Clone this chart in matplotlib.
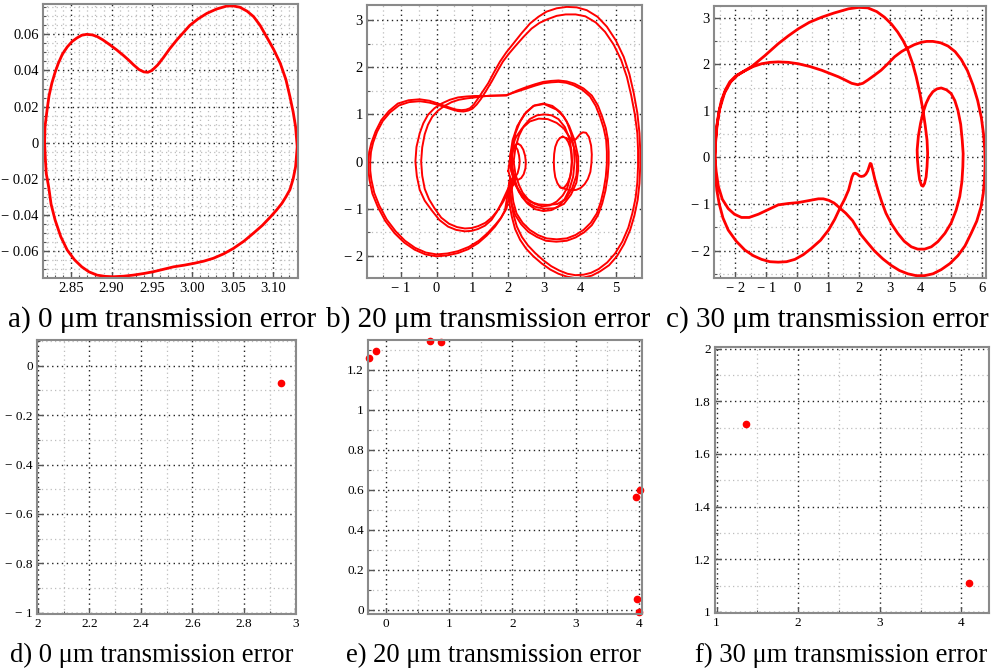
import matplotlib
matplotlib.use('Agg')
import matplotlib.pyplot as plt
from matplotlib.ticker import MultipleLocator, FuncFormatter

plt.rcParams['font.family'] = ['Liberation Serif', 'DejaVu Serif']

# ---------------- data ----------------
# a) 0 um phase portrait (closed orbit)
a_x = [2.817, 2.8175, 2.820, 2.8225, 2.826, 2.830, 2.834, 2.839, 2.845, 2.851, 2.857, 2.863, 2.869,
       2.876, 2.882, 2.889, 2.897, 2.906, 2.915, 2.921, 2.927, 2.934, 2.940, 2.945, 2.950, 2.957,
       2.964, 2.972, 2.981, 2.989, 2.997, 3.007, 3.018, 3.030, 3.043, 3.051, 3.059, 3.068, 3.076,
       3.084, 3.092, 3.101, 3.109, 3.116, 3.121, 3.125, 3.128, 3.130, 3.129, 3.128, 3.125, 3.121,
       3.116, 3.111, 3.104, 3.097, 3.087, 3.076, 3.064, 3.051, 3.039, 3.026, 3.014, 3.002, 2.990,
       2.977, 2.965, 2.952, 2.940, 2.927, 2.915, 2.902, 2.892, 2.882, 2.872, 2.863, 2.854, 2.845,
       2.837, 2.830, 2.825, 2.822, 2.819, 2.818, 2.817]
a_y = [0.000, 0.009, 0.018, 0.026, 0.033, 0.039, 0.044, 0.049, 0.053, 0.056, 0.058, 0.0595, 0.060,
       0.0597, 0.0588, 0.0570, 0.0545, 0.0515, 0.0482, 0.0458, 0.0432, 0.0405, 0.0392, 0.0390, 0.0400, 0.043,
       0.047, 0.052, 0.057, 0.061, 0.065, 0.0685, 0.0716, 0.074, 0.0757, 0.0757, 0.075, 0.0728, 0.0698,
       0.065, 0.0587, 0.0515, 0.044, 0.035, 0.0255, 0.017, 0.0089, -0.0022, -0.008, -0.0133, -0.020, -0.026,
       -0.030, -0.0336, -0.0375, -0.041, -0.0457, -0.050, -0.0545, -0.0585, -0.0615, -0.064, -0.0656, -0.0668, -0.0678,
       -0.0687, -0.070, -0.0714, -0.0724, -0.0733, -0.0739, -0.0742, -0.0740, -0.0733, -0.0715, -0.0687, -0.0648, -0.0594,
       -0.052, -0.0428, -0.034, -0.0244, -0.017, -0.0096, 0.000]

# b) 20 um phase portrait (several strands)
b_outer1_x = [2.05, 1.98, 1.91, 1.78, 1.63, 1.40, 1.16, 0.88, 0.60, 0.30, 0.00, -0.31, -0.61, -0.90,
              -1.17, -1.43, -1.64, -1.79, -1.87, -1.90, -1.90, -1.88, -1.82, -1.70, -1.54, -1.33, -1.08,
              -0.78, -0.47, -0.20, 0.04, 0.23, 0.42, 0.56, 0.70, 0.82, 0.93, 1.04, 1.16, 1.30, 1.44,
              1.60, 1.77, 1.95, 2.14, 2.37, 2.61, 2.84, 3.07, 3.35, 3.63, 3.91, 4.19, 4.49, 4.75,
              5.00, 5.22, 5.38, 5.50, 5.60, 5.66, 5.68, 5.68, 5.66, 5.61, 5.52, 5.40, 5.23, 5.03,
              4.81, 4.56, 4.33, 4.10, 3.86, 3.63, 3.40, 3.17, 2.93, 2.70, 2.50, 2.33, 2.19, 2.10,
              2.04, 2.02, 2.03, 2.05]
b_outer1_y = [-0.35, -0.70, -1.03, -1.22, -1.38, -1.57, -1.73, -1.86, -1.94, -1.99, -2.01, -1.97, -1.87, -1.72,
              -1.52, -1.26, -0.96, -0.68, -0.39, -0.19, 0.00, 0.20, 0.39, 0.64, 0.88, 1.07, 1.23,
              1.30, 1.32, 1.29, 1.23, 1.18, 1.13, 1.10, 1.09, 1.10, 1.13, 1.21, 1.34, 1.50, 1.66,
              1.89, 2.12, 2.32, 2.50, 2.72, 2.93, 3.07, 3.18, 3.25, 3.28, 3.27, 3.21, 3.07, 2.86,
              2.57, 2.22, 1.85, 1.45, 1.03, 0.60, 0.25, -0.11, -0.46, -0.81, -1.14, -1.45, -1.75, -2.01,
              -2.20, -2.33, -2.42, -2.46, -2.47, -2.44, -2.38, -2.29, -2.16, -2.01, -1.85, -1.66, -1.43, -1.17,
              -0.93, -0.70, -0.52, -0.35]
b_outer2_x = [2.15, 2.03, 1.95, 1.81, 1.65, 1.42, 1.18, 0.90, 0.60, 0.30, 0.00, -0.30, -0.60, -0.88,
              -1.14, -1.39, -1.60, -1.74, -1.82, -1.85, -1.85, -1.83, -1.77, -1.66, -1.50, -1.30, -1.05,
              -0.77, -0.47, -0.20, 0.05, 0.25, 0.45, 0.60, 0.75, 0.88, 1.00, 1.12, 1.24, 1.39, 1.54,
              1.70, 1.85, 2.02, 2.20, 2.42, 2.65, 2.87, 3.10, 3.35, 3.60, 3.88, 4.15, 4.44, 4.70,
              4.94, 5.15, 5.31, 5.43, 5.53, 5.60, 5.62, 5.62, 5.60, 5.55, 5.46, 5.35, 5.18, 4.98,
              4.76, 4.52, 4.31, 4.10, 3.87, 3.65, 3.42, 3.20, 2.97, 2.75, 2.55, 2.38, 2.24, 2.15,
              2.09, 2.06, 2.09, 2.15]
b_outer2_y = [-0.45, -0.72, -1.00, -1.18, -1.33, -1.52, -1.68, -1.81, -1.90, -1.95, -1.97, -1.93, -1.83, -1.68,
              -1.48, -1.23, -0.93, -0.66, -0.38, -0.19, 0.00, 0.20, 0.40, 0.63, 0.86, 1.04, 1.19,
              1.26, 1.28, 1.25, 1.20, 1.15, 1.10, 1.07, 1.06, 1.08, 1.12, 1.21, 1.33, 1.51, 1.70,
              1.92, 2.12, 2.29, 2.45, 2.64, 2.82, 2.94, 3.02, 3.09, 3.12, 3.12, 3.08, 2.95, 2.75,
              2.48, 2.15, 1.79, 1.40, 1.00, 0.60, 0.25, -0.10, -0.44, -0.78, -1.10, -1.40, -1.70, -1.95,
              -2.14, -2.28, -2.36, -2.40, -2.41, -2.38, -2.31, -2.22, -2.09, -1.94, -1.78, -1.60, -1.38, -1.14,
              -0.90, -0.68, -0.55, -0.45]
b_mid1_x = [2.15, 1.98, 1.81, 1.68, 1.53, 1.35, 1.16, 0.98, 0.79, 0.55, 0.32, 0.08, -0.14, -0.33,
            -0.47, -0.55, -0.59, -0.56, -0.47, -0.37, -0.24, -0.06, 0.14, 0.37, 0.60, 0.84, 1.07,
            1.50, 1.95, 2.23, 2.51, 2.75, 2.98, 3.20, 3.40, 3.62, 3.82, 4.07, 4.28, 4.44, 4.56,
            4.66, 4.73, 4.75, 4.75, 4.72, 4.66, 4.58, 4.47, 4.30, 4.10, 3.87, 3.63, 3.35, 3.07,
            2.83, 2.60, 2.40, 2.23, 2.14, 2.10, 2.11, 2.15]
b_mid1_y = [-0.30, -0.60, -0.88, -1.07, -1.24, -1.36, -1.43, -1.47, -1.48, -1.45, -1.38, -1.24, -1.03, -0.83,
            -0.60, -0.31, 0.00, 0.31, 0.60, 0.81, 0.99, 1.13, 1.23, 1.31, 1.36, 1.38, 1.39,
            1.39, 1.41, 1.48, 1.55, 1.61, 1.66, 1.68, 1.69, 1.67, 1.62, 1.52, 1.38, 1.18, 0.95,
            0.71, 0.46, 0.21, -0.04, -0.32, -0.60, -0.86, -1.10, -1.30, -1.45, -1.56, -1.63, -1.65, -1.63,
            -1.56, -1.45, -1.30, -1.10, -0.85, -0.60, -0.45, -0.30]
b_mid2_x = [2.20, 2.03, 1.86, 1.71, 1.55, 1.36, 1.16, 0.98, 0.79, 0.57, 0.35, 0.13, -0.05, -0.21,
            -0.33, -0.40, -0.43, -0.40, -0.33, -0.24, -0.12, 0.04, 0.22, 0.42, 0.62, 0.85, 1.07,
            1.50, 1.95, 2.23, 2.51, 2.75, 2.98, 3.20, 3.40, 3.63, 3.85, 4.10, 4.33, 4.50, 4.62,
            4.72, 4.78, 4.80, 4.80, 4.77, 4.71, 4.62, 4.50, 4.33, 4.12, 3.88, 3.63, 3.34, 3.05,
            2.80, 2.56, 2.36, 2.19, 2.09, 2.05, 2.10, 2.20]
b_mid2_y = [-0.35, -0.60, -0.85, -1.03, -1.18, -1.30, -1.37, -1.41, -1.42, -1.39, -1.32, -1.19, -1.00, -0.80,
            -0.58, -0.30, 0.00, 0.30, 0.58, 0.78, 0.95, 1.08, 1.18, 1.26, 1.31, 1.34, 1.36,
            1.40, 1.40, 1.50, 1.58, 1.64, 1.69, 1.71, 1.72, 1.70, 1.65, 1.55, 1.40, 1.19, 0.95,
            0.71, 0.46, 0.21, -0.04, -0.33, -0.62, -0.89, -1.14, -1.35, -1.50, -1.61, -1.68, -1.70, -1.68,
            -1.60, -1.49, -1.33, -1.13, -0.87, -0.60, -0.45, -0.35]
b_loop1_x = [2.10, 2.13, 2.20, 2.33, 2.50, 2.73, 2.98, 3.23, 3.45, 3.63, 3.75, 3.83, 3.85, 3.81, 3.70,
             3.57, 3.40, 3.20, 2.98, 2.75, 2.55, 2.38, 2.25, 2.15, 2.10]
b_loop1_y = [0.00, 0.32, 0.60, 0.85, 1.05, 1.19, 1.23, 1.18, 1.05, 0.85, 0.60, 0.30, 0.00, -0.32, -0.60,
             -0.80, -0.95, -1.03, -1.05, -1.01, -0.90, -0.75, -0.55, -0.30, 0.00]
b_loop2_x = [2.15, 2.20, 2.30, 2.43, 2.60, 2.80, 3.00, 3.21, 3.40, 3.58, 3.70, 3.76, 3.78, 3.74, 3.65,
             3.52, 3.35, 3.16, 2.95, 2.74, 2.55, 2.40, 2.30, 2.20, 2.15]
b_loop2_y = [0.00, 0.30, 0.55, 0.75, 0.90, 0.98, 1.00, 0.98, 0.90, 0.73, 0.50, 0.25, 0.00, -0.29, -0.55,
             -0.72, -0.85, -0.93, -0.95, -0.90, -0.80, -0.66, -0.50, -0.27, 0.00]
b_loop3_x = [2.00, 2.07, 2.20, 2.38, 2.60, 2.85, 3.10, 3.35, 3.55, 3.75, 3.88, 3.92, 3.90, 3.78, 3.60,
             3.37, 3.10, 2.85, 2.60, 2.38, 2.20, 2.06, 2.00]
b_loop3_y = [-0.20, 0.18, 0.50, 0.70, 0.85, 0.91, 0.90, 0.82, 0.70, 0.47, 0.20, -0.05, -0.30, -0.57, -0.80,
             -0.90, -0.92, -0.91, -0.85, -0.70, -0.50, -0.35, -0.20]
b_loop4_x = [2.05, 2.12, 2.25, 2.45, 2.70, 3.00, 3.35, 3.55, 3.70, 3.85, 3.95, 3.95, 3.90, 3.75, 3.55,
             3.30, 3.00, 2.75, 2.50, 2.30, 2.15, 2.07, 2.05]
b_loop4_y = [0.10, 0.45, 0.75, 1.00, 1.18, 1.22, 1.10, 0.95, 0.75, 0.45, 0.10, -0.18, -0.45, -0.70, -0.90,
             -0.99, -1.00, -0.96, -0.85, -0.65, -0.40, -0.15, 0.10]
b_ellipse_x = [3.52, 3.60, 3.67, 3.73, 3.76, 3.77, 3.76, 3.72, 3.66, 3.59, 3.52, 3.44, 3.37, 3.31, 3.28,
               3.27, 3.28, 3.31, 3.37, 3.44, 3.52]
b_ellipse_y = [0.53, 0.50, 0.42, 0.30, 0.15, 0.00, -0.17, -0.33, -0.45, -0.53, -0.57, -0.54, -0.46, -0.33, -0.17,
               0.00, 0.16, 0.31, 0.43, 0.50, 0.53]
b_bump_x = [3.62, 3.75, 3.88, 4.00, 4.08, 4.17, 4.25, 4.31, 4.33, 4.32, 4.29, 4.22, 4.13, 4.02, 3.90,
            3.77, 3.62, 3.45]
b_bump_y = [0.50, 0.44, 0.47, 0.58, 0.62, 0.61, 0.52, 0.34, 0.15, -0.03, -0.22, -0.37, -0.48, -0.56, -0.60,
            -0.61, -0.59, -0.55]
b_small1_x = [2.27, 2.35, 2.42, 2.47, 2.49, 2.48, 2.43, 2.36, 2.27, 2.18, 2.11, 2.06, 2.05, 2.07, 2.12,
              2.19, 2.27]
b_small1_y = [0.38, 0.34, 0.25, 0.12, -0.01, -0.14, -0.27, -0.35, -0.39, -0.35, -0.26, -0.13, 0.00, 0.14, 0.27,
              0.35, 0.38]
b_small2_x = [2.20, 2.26, 2.30, 2.32, 2.30, 2.26, 2.20, 2.14, 2.10, 2.08, 2.10, 2.14, 2.20]
b_small2_y = [0.32, 0.25, 0.13, 0.00, -0.13, -0.25, -0.32, -0.25, -0.13, 0.00, 0.13, 0.25, 0.32]

# c) 30 um phase portrait (period-2 orbit)
c_x = [-2.66, -2.64, -2.60, -2.54, -2.45, -2.32, -2.18, -2.00, -1.75, -1.47, -1.05, -0.61, -0.28, 0.04,
       0.40, 0.80, 1.20, 1.67, 2.00, 2.29, 2.58, 2.83, 3.06, 3.26, 3.44, 3.59, 3.74, 3.86,
       3.98, 4.08, 4.15, 4.21, 4.23, 4.21, 4.18, 4.13, 4.08, 4.03, 3.97, 3.93, 3.90, 3.89,
       3.93, 4.00, 4.08, 4.18, 4.28, 4.40, 4.53, 4.67, 4.84, 4.99, 5.11, 5.21, 5.30, 5.35,
       5.38, 5.37, 5.34, 5.27, 5.15, 4.99, 4.79, 4.56, 4.35, 4.13, 3.91, 3.70, 3.47, 3.26,
       3.06, 2.88, 2.74, 2.62, 2.52, 2.45, 2.40, 2.37, 2.33, 2.29, 2.23, 2.16, 2.08, 2.02,
       1.95, 1.88, 1.83, 1.78, 1.67, 1.54, 1.39, 1.22, 1.02, 0.76, 0.47, 0.20, -0.07, -0.34,
       -0.61, -0.88, -1.15, -1.42, -1.69, -1.97, -2.23, -2.40, -2.52, -2.60, -2.64, -2.66,
       -2.65, -2.60, -2.50, -2.35, -2.15, -1.92, -1.69, -1.42, -1.15, -0.88, -0.61, -0.28, 0.04,
       0.42, 0.80, 1.07, 1.34, 1.56, 1.77, 1.97, 2.13, 2.29, 2.50, 2.72, 2.94, 3.16, 3.38,
       3.59, 3.80, 4.02, 4.20, 4.40, 4.65, 4.89, 5.12, 5.32, 5.52, 5.70, 5.85, 5.97, 6.04,
       6.08, 6.09, 6.07, 6.03, 5.96, 5.82, 5.64, 5.44, 5.21, 4.95, 4.67, 4.40, 4.13, 3.86,
       3.59, 3.32, 3.05, 2.78, 2.51, 2.28, 2.07, 1.80, 1.58, 1.39, 1.20, 1.02, 0.85, 0.69,
       0.37, 0.04, -0.28, -0.61, -0.93, -1.25, -1.55, -1.80, -2.03, -2.23, -2.42, -2.55, -2.62,
       -2.66]
c_y = [0.00, 0.30, 0.62, 0.95, 1.22, 1.45, 1.62, 1.74, 1.84, 1.95, 2.18, 2.44, 2.61, 2.76,
       2.90, 3.01, 3.10, 3.19, 3.22, 3.21, 3.13, 3.01, 2.86, 2.69, 2.50, 2.30, 2.02, 1.73,
       1.37, 1.01, 0.69, 0.37, 0.08, -0.20, -0.42, -0.56, -0.62, -0.60, -0.48, -0.28, -0.05, 0.16,
       0.46, 0.73, 0.96, 1.16, 1.30, 1.41, 1.47, 1.49, 1.45, 1.37, 1.22, 1.01, 0.71, 0.37,
       0.08, -0.20, -0.52, -0.84, -1.14, -1.41, -1.63, -1.81, -1.92, -1.97, -1.97, -1.92, -1.80, -1.63,
       -1.43, -1.20, -0.95, -0.70, -0.47, -0.27, -0.14, -0.13, -0.21, -0.29, -0.36, -0.40, -0.41, -0.40,
       -0.36, -0.34, -0.35, -0.42, -0.70, -0.90, -1.09, -1.33, -1.56, -1.78, -1.95, -2.09, -2.19, -2.24,
       -2.25, -2.24, -2.19, -2.11, -1.99, -1.80, -1.56, -1.30, -1.00, -0.70, -0.40, 0.00,
       0.30, 0.68, 1.05, 1.38, 1.62, 1.77, 1.86, 1.95, 2.01, 2.04, 2.05, 2.04, 2.01,
       1.95, 1.87, 1.80, 1.73, 1.66, 1.59, 1.56, 1.59, 1.66, 1.76, 1.87, 2.01, 2.16, 2.27,
       2.35, 2.42, 2.47, 2.49, 2.49, 2.46, 2.39, 2.27, 2.10, 1.86, 1.55, 1.22, 0.85, 0.50,
       0.16, -0.17, -0.49, -0.78, -1.06, -1.37, -1.63, -1.90, -2.11, -2.28, -2.41, -2.50, -2.54, -2.54,
       -2.50, -2.43, -2.32, -2.18, -2.01, -1.83, -1.66, -1.36, -1.20, -1.09, -0.98, -0.92, -0.89, -0.89,
       -0.93, -0.97, -0.99, -1.02, -1.12, -1.22, -1.29, -1.29, -1.22, -1.10, -0.90, -0.62, -0.30,
       0.00]

# Poincare maps
d_x = [2.945]
d_y = [-0.071]
e_x = [-0.276, -0.159, 0.700, 0.874, 3.963, 4.027, 3.970, 4.000]
e_y = [1.262, 1.295, 1.345, 1.338, 0.567, 0.600, 0.053, -0.008]
f_x = [1.359, 4.100]
f_y = [1.712, 1.110]

captions = ["a) 0 \u03bcm transmission error", "b) 20 \u03bcm transmission error",
            "c) 30 \u03bcm transmission error", "d) 0 \u03bcm transmission error",
            "e) 20 \u03bcm transmission error", "f) 30 \u03bcm transmission error"]

# ---------------- figure ----------------
W, H = 993, 672
fig = plt.figure(figsize=(W / 100, H / 100), dpi=100)


def axes_px(l, r, t, b):
    return fig.add_axes([l / W, 1 - b / H, (r - l) / W, (b - t) / H])


def make_fmt(dec):
    def f(v, pos):
        if abs(v) < 1e-9:
            return "0"
        if dec == 0 or (dec == 1 and abs(v - round(v)) < 1e-9):
            s = "%d" % round(abs(v))
        else:
            s = ("%." + str(dec) + "f") % abs(v)
        return ("\u2212 " + s) if v < 0 else s
    return FuncFormatter(f)


def style(ax, xlim, ylim, xmaj, xmin, ymaj, ymin, xdec, ydec, fs):
    ax.set_xlim(*xlim)
    ax.set_ylim(*ylim)
    ax.xaxis.set_major_locator(MultipleLocator(xmaj))
    ax.xaxis.set_minor_locator(MultipleLocator(xmin))
    ax.yaxis.set_major_locator(MultipleLocator(ymaj))
    ax.yaxis.set_minor_locator(MultipleLocator(ymin))
    ax.xaxis.set_major_formatter(make_fmt(xdec))
    ax.yaxis.set_major_formatter(make_fmt(ydec))
    ax.set_axisbelow(True)
    ax.grid(which='minor', linestyle=(0, (1, 2.5)), color='#bdbdbd', lw=0.9)
    ax.grid(which='major', linestyle=(0, (1, 2.5)), color='#222222', lw=1.0)
    for s in ax.spines.values():
        s.set_color('#8a8a8a')
        s.set_linewidth(1.5)
    ax.tick_params(which='both', direction='in', color='#555555', labelsize=fs,
                   top=False, right=False, pad=3)
    ax.tick_params(which='major', length=4, width=1)
    ax.tick_params(which='minor', length=2.5, width=0.8)


line_kw = dict(color='#ff0000', solid_joinstyle='round', solid_capstyle='round')

# a
ax = axes_px(43, 298, 4, 278)
ax.plot(a_x, a_y, lw=2.0, **line_kw)
style(ax, (2.815, 3.131), (-0.0749, 0.0768), 0.05, 0.01, 0.02, 0.005, 2, 2, 10.5)

# b
ax = axes_px(367, 642, 5, 278)
for xs, ys in [(b_outer1_x, b_outer1_y), (b_outer2_x, b_outer2_y), (b_mid1_x, b_mid1_y),
               (b_mid2_x, b_mid2_y), (b_loop1_x, b_loop1_y), (b_loop2_x, b_loop2_y),
               (b_loop3_x, b_loop3_y), (b_loop4_x, b_loop4_y), (b_ellipse_x, b_ellipse_y),
               (b_bump_x, b_bump_y), (b_small1_x, b_small1_y), (b_small2_x, b_small2_y)]:
    ax.plot(xs, ys, lw=1.4, **line_kw)
style(ax, (-1.94, 5.73), (-2.47, 3.32), 1, 0.5, 1, 0.5, 0, 0, 10.5)

# c
ax = axes_px(714, 986, 6, 278)
ax.plot(c_x, c_y, lw=2.0, **line_kw)
style(ax, (-2.69, 6.12), (-2.59, 3.25), 1, 0.5, 1, 0.5, 0, 0, 10.5)

# d
ax = axes_px(37, 296, 340, 614)
ax.plot(d_x, d_y, 'o', color='#ff0000', ms=4.5, clip_on=False)
style(ax, (1.996, 3.003), (-1.005, 0.104), 0.2, 0.1, 0.2, 0.1, 1, 1, 9.5)

# e
ax = axes_px(368, 642, 340, 614)
ax.plot(e_x, e_y, 'o', color='#ff0000', ms=4.5, clip_on=False)
style(ax, (-0.29, 4.054), (-0.02, 1.35), 1, 0.5, 0.2, 0.1, 0, 1, 9.5)

# f
ax = axes_px(715, 989, 347, 613)
ax.plot(f_x, f_y, 'o', color='#ff0000', ms=4.5, clip_on=False)
style(ax, (0.98, 4.34), (0.996, 2.006), 1, 0.5, 0.2, 0.1, 0, 1, 9.5)

# captions
for txt, cx, cy, fs in [(captions[0], 162, 320, 21), (captions[1], 488, 320, 21),
                        (captions[2], 827, 320, 21), (captions[3], 152, 655, 19.2),
                        (captions[4], 494, 655, 19.2), (captions[5], 841, 655, 19.2)]:
    fig.text(cx / W, 1 - cy / H, txt, ha='center', va='center', fontsize=fs)

fig.savefig('out.png', dpi=100)
